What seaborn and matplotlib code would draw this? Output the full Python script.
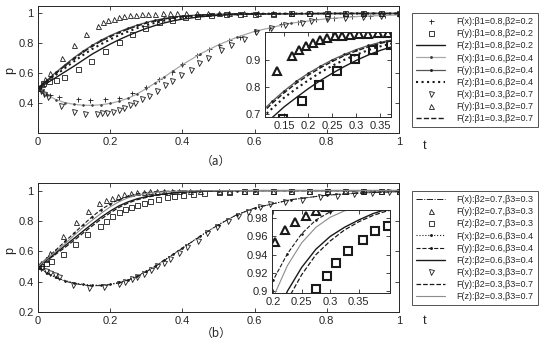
import matplotlib
matplotlib.use("Agg")
import matplotlib.pyplot as plt
from matplotlib.lines import Line2D
import seaborn as sns

sns.set_theme(style="white")
plt.rcParams['font.family'] = ['Liberation Sans', 'Noto Sans CJK SC', 'DejaVu Sans']

# ---------------- data ----------------
t_line = [0, 0.025, 0.05, 0.075, 0.1, 0.125, 0.15, 0.175, 0.2, 0.225, 0.25, 0.275, 0.3,
          0.325, 0.35, 0.375, 0.4, 0.45, 0.5, 0.55, 0.6, 0.7, 0.8, 0.9, 1.0]

# panel (a) lines
a_fz_08 = [0.5, 0.535, 0.572, 0.61, 0.648, 0.688, 0.728, 0.762, 0.795, 0.825, 0.852, 0.877, 0.9,
           0.92, 0.937, 0.951, 0.962, 0.978, 0.988, 0.993, 0.996, 0.998, 0.999, 1.0, 1.0]
a_fx_06 = [0.5, 0.455, 0.423, 0.403, 0.392, 0.386, 0.385, 0.389, 0.398, 0.413, 0.433, 0.462, 0.498,
           0.535, 0.575, 0.617, 0.657, 0.73, 0.79, 0.84, 0.88, 0.935, 0.965, 0.982, 0.99]
a_fy_06 = [0.5, 0.554, 0.607, 0.657, 0.705, 0.748, 0.787, 0.822, 0.852, 0.878, 0.902, 0.922, 0.94,
           0.955, 0.967, 0.976, 0.983, 0.991, 0.995, 0.997, 0.998, 0.999, 1.0, 1.0, 1.0]
a_fz_06 = [0.5, 0.545, 0.59, 0.635, 0.68, 0.722, 0.762, 0.795, 0.826, 0.855, 0.88, 0.902, 0.921,
           0.938, 0.952, 0.963, 0.972, 0.985, 0.992, 0.996, 0.998, 0.999, 1.0, 1.0, 1.0]
a_fz_03 = [0.5, 0.55, 0.6, 0.65, 0.697, 0.741, 0.78, 0.815, 0.845, 0.872, 0.896, 0.917, 0.935,
           0.95, 0.963, 0.973, 0.98, 0.989, 0.994, 0.997, 0.998, 0.999, 1.0, 1.0, 1.0]

# panel (a) markers
a_fx_08_t = [0, 0.008, 0.017, 0.033, 0.059, 0.11, 0.144, 0.186, 0.225, 0.26, 0.3, 0.335, 0.37, 0.4,
             0.44, 0.475, 0.5, 0.53, 0.56, 0.6, 0.64, 0.674, 0.72, 0.77, 0.82, 0.87, 0.92, 0.96, 1.0]
a_fx_08 = [0.5, 0.485, 0.47, 0.455, 0.44, 0.425, 0.424, 0.425, 0.436, 0.465, 0.51, 0.56, 0.61, 0.66,
           0.72, 0.76, 0.79, 0.82, 0.845, 0.88, 0.905, 0.929, 0.945, 0.96, 0.972, 0.98, 0.986, 0.99, 0.993]
a_fy_08_t = [0, 0.013, 0.03, 0.05, 0.073, 0.11, 0.147, 0.186, 0.223, 0.26, 0.297, 0.334, 0.372, 0.406,
             0.44, 0.48, 0.52, 0.56, 0.6, 0.65, 0.7, 0.75, 0.8, 0.85, 0.9, 0.95, 1.0]
a_fy_08 = [0.5, 0.535, 0.548, 0.557, 0.575, 0.626, 0.684, 0.749, 0.81, 0.862, 0.906, 0.94, 0.958, 0.975,
           0.985, 0.99, 0.994, 0.996, 0.998, 0.999, 1.0, 1.0, 1.0, 1.0, 1.0, 1.0, 1.0]
a_fx_03_t = [0, 0.008, 0.017, 0.028, 0.065, 0.1, 0.13, 0.163, 0.177, 0.192, 0.207, 0.223, 0.239, 0.256,
             0.27, 0.288, 0.307, 0.33, 0.353, 0.372, 0.395, 0.423, 0.446, 0.47, 0.507, 0.535, 0.572,
             0.604, 0.646, 0.683, 0.73, 0.757, 0.8, 0.85, 0.9, 0.95, 1.0]
a_fx_03 = [0.5, 0.48, 0.46, 0.44, 0.38, 0.343, 0.325, 0.33, 0.332, 0.337, 0.343, 0.354, 0.369, 0.385,
           0.4, 0.425, 0.447, 0.48, 0.524, 0.55, 0.59, 0.623, 0.667, 0.7, 0.755, 0.788, 0.83,
           0.878, 0.905, 0.92, 0.934, 0.95, 0.96, 0.97, 0.978, 0.984, 0.988]
a_fy_03_t = [0, 0.01, 0.02, 0.033, 0.066, 0.1, 0.134, 0.166, 0.181, 0.195, 0.21, 0.224, 0.239, 0.255,
             0.271, 0.287, 0.306, 0.325, 0.345, 0.365, 0.385, 0.41, 0.44, 0.47, 0.5, 0.53, 0.57, 0.61,
             0.65, 0.7, 0.75, 0.8, 0.85, 0.9, 0.95, 1.0]
a_fy_03 = [0.5, 0.53, 0.56, 0.6, 0.7, 0.79, 0.862, 0.916, 0.94, 0.953, 0.966, 0.976, 0.982, 0.989,
           0.991, 0.995, 0.997, 0.999, 1.0, 1.0, 1.0, 1.0, 1.0, 1.0, 1.0, 1.0, 1.0, 1.0,
           1.0, 1.0, 1.0, 1.0, 1.0, 1.0, 1.0, 1.0]

# panel (b) lines
b_fx_07 = [0.5, 0.455, 0.425, 0.403, 0.388, 0.378, 0.373, 0.374, 0.38, 0.392, 0.41, 0.435, 0.465,
           0.5, 0.54, 0.58, 0.62, 0.7, 0.775, 0.84, 0.885, 0.94, 0.97, 0.985, 0.993]
b_fx_06 = [0.5, 0.457, 0.428, 0.407, 0.392, 0.382, 0.377, 0.377, 0.383, 0.395, 0.413, 0.438, 0.468,
           0.503, 0.542, 0.582, 0.622, 0.702, 0.776, 0.84, 0.885, 0.94, 0.97, 0.985, 0.993]
b_fy_06 = [0.5, 0.555, 0.61, 0.665, 0.72, 0.775, 0.828, 0.875, 0.912, 0.941, 0.963, 0.978, 0.987,
           0.992, 0.995, 0.997, 0.998, 0.999, 1.0, 1.0, 1.0, 1.0, 1.0, 1.0, 1.0]
b_fz_06 = [0.5, 0.545, 0.59, 0.637, 0.685, 0.733, 0.78, 0.825, 0.865, 0.9, 0.926, 0.946, 0.96,
           0.97, 0.978, 0.985, 0.99, 0.995, 0.998, 0.999, 1.0, 1.0, 1.0, 1.0, 1.0]
b_fy_03 = [0.5, 0.54, 0.582, 0.626, 0.672, 0.72, 0.767, 0.812, 0.853, 0.89, 0.918, 0.94, 0.955,
           0.967, 0.976, 0.983, 0.988, 0.994, 0.997, 0.999, 1.0, 1.0, 1.0, 1.0, 1.0]
b_fz_03 = [0.5, 0.55, 0.6, 0.65, 0.705, 0.757, 0.805, 0.85, 0.893, 0.928, 0.953, 0.97, 0.981,
           0.988, 0.992, 0.995, 0.997, 0.999, 1.0, 1.0, 1.0, 1.0, 1.0, 1.0, 1.0]

# panel (b) markers
b_fy_07_t = [0, 0.009, 0.023, 0.033, 0.07, 0.105, 0.138, 0.17, 0.189, 0.204, 0.221, 0.239, 0.257,
             0.275, 0.293, 0.31, 0.33, 0.35, 0.37, 0.39, 0.42, 0.45, 0.5, 0.53, 0.57, 0.6, 0.65, 0.7,
             0.75, 0.8, 0.85, 0.9, 0.95, 1.0]
b_fy_07 = [0.5, 0.52, 0.55, 0.59, 0.703, 0.792, 0.864, 0.917, 0.936, 0.954, 0.967, 0.976, 0.982,
           0.988, 0.992, 0.995, 0.997, 0.998, 0.999, 1.0, 1.0, 1.0, 1.0, 1.0, 1.0, 1.0, 1.0, 1.0,
           1.0, 1.0, 1.0, 1.0, 1.0, 1.0]
b_fz_07_t = [0, 0.009, 0.023, 0.037, 0.07, 0.102, 0.137, 0.172, 0.189, 0.206, 0.223, 0.241, 0.258,
             0.275, 0.294, 0.311, 0.332, 0.357, 0.378, 0.401, 0.43, 0.46, 0.5, 0.53, 0.57, 0.6, 0.65,
             0.7, 0.75, 0.8, 0.85, 0.9, 0.95, 1.0]
b_fz_07 = [0.5, 0.505, 0.52, 0.537, 0.585, 0.648, 0.712, 0.768, 0.8, 0.83, 0.857, 0.876, 0.891,
           0.902, 0.917, 0.931, 0.944, 0.956, 0.966, 0.972, 0.978, 0.984, 0.99, 0.993, 0.995, 0.997,
           0.998, 0.999, 1.0, 1.0, 1.0, 1.0, 1.0, 1.0]
b_fx_03_t = [0, 0.009, 0.023, 0.034, 0.046, 0.058, 0.098, 0.14, 0.183, 0.223, 0.242, 0.26, 0.274,
             0.293, 0.312, 0.33, 0.349, 0.367, 0.39, 0.414, 0.442, 0.469, 0.497, 0.525, 0.553, 0.581,
             0.614, 0.642, 0.683, 0.73, 0.78, 0.828, 0.874, 0.925, 0.972]
b_fx_03 = [0.5, 0.49, 0.473, 0.456, 0.442, 0.429, 0.375, 0.355, 0.362, 0.385, 0.4, 0.415, 0.432,
           0.453, 0.476, 0.5, 0.522, 0.55, 0.59, 0.63, 0.67, 0.72, 0.76, 0.8, 0.83, 0.86,
           0.89, 0.91, 0.928, 0.94, 0.955, 0.967, 0.976, 0.982, 0.989]

labels_a = ["F(x):β1=0.8,β2=0.2", "F(y):β1=0.8,β2=0.2", "F(z):β1=0.8,β2=0.2",
            "F(x):β1=0.6,β2=0.4", "F(y):β1=0.6,β2=0.4", "F(z):β1=0.6,β2=0.4",
            "F(x):β1=0.3,β2=0.7", "F(y):β1=0.3,β2=0.7", "F(z):β1=0.3,β2=0.7"]
labels_b = ["F(x):β2=0.7,β3=0.3", "F(y):β2=0.7,β3=0.3", "F(z):β2=0.7,β3=0.3",
            "F(x):β2=0.6,β3=0.4", "F(y):β2=0.6,β3=0.4", "F(z):β2=0.6,β3=0.4",
            "F(x):β2=0.3,β3=0.7", "F(y):β2=0.3,β3=0.7", "F(z):β2=0.3,β3=0.7"]

# ---------------- styles ----------------
def mk(marker, ms):
    return dict(marker=marker, linestyle='none', color='k', mec='k', mfc='none', ms=ms)

STY_A = [
    ('m', '+'), ('m', 's'),
    ('l', dict(color='k', lw=1.0, linestyle='-')),
    ('l', dict(color='#a8a8a8', lw=0.9, linestyle='-', marker='.', ms=2.2, mec='#444444', mfc='#444444')),
    ('l', dict(color='#555555', lw=0.9, linestyle='-', marker='.', ms=2.2, mec='#222222', mfc='#222222')),
    ('l', dict(color='k', lw=1.5, linestyle=':')),
    ('m', 'v'), ('m', '^'),
    ('l', dict(color='k', lw=1.0, linestyle='--')),
]
STY_B = [
    ('l', dict(color='k', lw=0.7, linestyle='-.')),
    ('m', '^'), ('m', 's'),
    ('l', dict(color='k', lw=0.8, linestyle=':', marker='.', ms=2.2, mec='k', mfc='k')),
    ('l', dict(color='k', lw=0.8, linestyle='--', marker='.', ms=2.2, mec='k', mfc='k')),
    ('l', dict(color='k', lw=1.0, linestyle='-')),
    ('m', 'v'),
    ('l', dict(color='k', lw=0.9, linestyle='--')),
    ('l', dict(color='#8c8c8c', lw=0.8, linestyle='-')),
]

SER_A = [(a_fx_08_t, a_fx_08), (a_fy_08_t, a_fy_08), (t_line, a_fz_08),
         (t_line, a_fx_06), (t_line, a_fy_06), (t_line, a_fz_06),
         (a_fx_03_t, a_fx_03), (a_fy_03_t, a_fy_03), (t_line, a_fz_03)]
SER_B = [(t_line, b_fx_07), (b_fy_07_t, b_fy_07), (b_fz_07_t, b_fz_07),
         (t_line, b_fx_06), (t_line, b_fy_06), (t_line, b_fz_06),
         (b_fx_03_t, b_fx_03), (t_line, b_fy_03), (t_line, b_fz_03)]


def draw(ax, series, styles, inset=False):
    for (x, y), (kind, s) in zip(series, styles):
        if kind == 'm':
            kw = mk(s, 5.5 if inset else 3.6)
            kw['mew'] = 1.5 if inset else 0.6
        else:
            kw = dict(s)
        sns.lineplot(x=x, y=y, ax=ax, estimator=None, sort=False, legend=False, **kw)


def style_axes(ax, fs=8):
    for sp in ax.spines.values():
        sp.set_linewidth(0.7)
        sp.set_color('#262626')
    ax.tick_params(direction='in', top=True, right=True, length=3, width=0.6,
                   labelsize=fs, colors='#262626', pad=3, bottom=True, left=True)
    ax.set_xlabel('')
    ax.set_ylabel('')


def fmt(v):
    return ('%g' % v)


def legend_handles(styles):
    hs = []
    for kind, s in styles:
        if kind == 'm':
            kw = mk(s, 3.6)
            kw['mew'] = 0.6
            hs.append(Line2D([], [], **kw))
        else:
            hs.append(Line2D([], [], **s))
    return hs


W, H = 550, 348
fig = plt.figure(figsize=(5.5, 3.48), dpi=100)

def fa(l, t, r, b):
    return [l / W, 1 - b / H, (r - l) / W, (b - t) / H]

panels = [
    dict(main=fa(38, 6, 399, 133), inset=fa(265, 32, 391, 117), series=SER_A, styles=STY_A,
         labels=labels_a, yticks=[0.4, 0.6, 0.8, 1.0], ixlim=(0.11, 0.372), iylim=(0.69, 1.005),
         ixt=[0.15, 0.2, 0.25, 0.3, 0.35], iyt=[0.7, 0.8, 0.9], leg=(412, 13, 540, 126),
         tag='（a）', tag_y=161, t_y=146, p_y=70),
    dict(main=fa(38, 183, 399, 312), inset=fa(272, 210, 390, 293), series=SER_B, styles=STY_B,
         labels=labels_b, yticks=[0.2, 0.4, 0.6, 0.8, 1.0], ixlim=(0.198, 0.405), iylim=(0.898, 0.989),
         ixt=[0.2, 0.25, 0.3, 0.35], iyt=[0.9, 0.92, 0.94, 0.96, 0.98], leg=(412, 191, 540, 303),
         tag='（b）', tag_y=333, t_y=321, p_y=250),
]

for P in panels:
    ax = fig.add_axes(P['main'])
    draw(ax, P['series'], P['styles'])
    ax.set_xlim(0, 1)
    ax.set_ylim(0.2, 1.05)
    xt = [0, 0.2, 0.4, 0.6, 0.8, 1.0]
    ax.set_xticks(xt)
    ax.set_xticklabels([fmt(v) for v in xt])
    ax.set_yticks(P['yticks'])
    ax.set_yticklabels([fmt(v) for v in P['yticks']])
    style_axes(ax)

    ins = fig.add_axes(P['inset'])
    ins.set_facecolor('white')
    draw(ins, P['series'], P['styles'], inset=True)
    ins.set_xlim(*P['ixlim'])
    ins.set_ylim(*P['iylim'])
    ins.set_xticks(P['ixt'])
    ins.set_xticklabels([fmt(v) for v in P['ixt']])
    ins.set_yticks(P['iyt'])
    ins.set_yticklabels([fmt(v) for v in P['iyt']])
    style_axes(ins)

    l, t, r, b = P['leg']
    leg = fig.legend(legend_handles(P['styles']), P['labels'], loc='upper left',
                     bbox_to_anchor=(l / W, 1 - t / H), bbox_transform=fig.transFigure,
                     fontsize=6.5, frameon=True, fancybox=False, shadow=False,
                     handlelength=3.2, handletextpad=1.3, borderpad=0.45, labelspacing=0.35,
                     markerfirst=True, borderaxespad=0)
    leg.get_frame().set_edgecolor('#262626')
    leg.get_frame().set_linewidth(0.7)
    leg.get_frame().set_facecolor('white')
    for txt in leg.get_texts():
        txt.set_color('#262626')

    fig.text(425 / W, 1 - P['t_y'] / H, 't', fontsize=9, ha='center', va='center', color='#262626')
    fig.text(216 / W, 1 - P['tag_y'] / H, P['tag'], fontsize=8.5, ha='center', va='center',
             color='#262626', family=['Noto Sans CJK SC', 'Liberation Sans'])
    fig.text(10 / W, 1 - P['p_y'] / H, 'p', fontsize=9, ha='center', va='center', rotation=90,
             color='#262626')

fig.savefig('out.png', dpi=100)
